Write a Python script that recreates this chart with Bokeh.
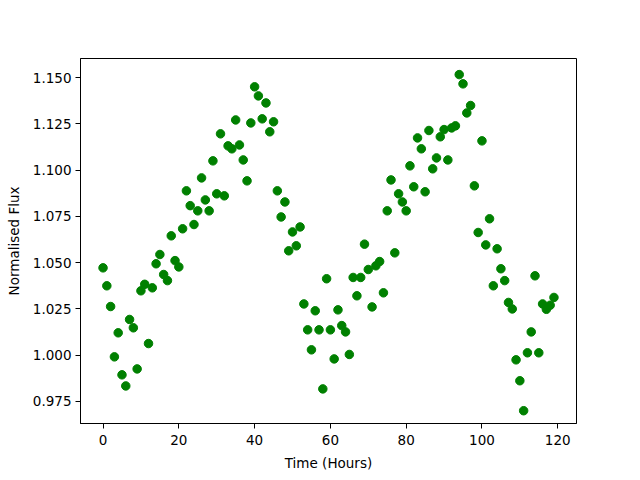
from bokeh.plotting import figure
from bokeh.models import Range1d, FixedTicker, NumeralTickFormatter, ColumnDataSource
from bokeh.embed import file_html
from bokeh.resources import INLINE

hours = list(range(120))
flux = [
    1.0472, 1.0375, 1.0263, 0.9991, 1.0121, 0.9894, 0.9834, 1.0193, 1.0148, 0.9926,
    1.0348, 1.0383, 1.0063, 1.0364, 1.0494, 1.0544, 1.0436, 1.0403, 1.0645, 1.0511,
    1.0477, 1.0683, 1.0888, 1.0808, 1.0706, 1.0780, 1.0958, 1.0839, 1.0780, 1.1050,
    1.0872, 1.1196, 1.0861, 1.1131, 1.1115, 1.1271, 1.1136, 1.1055, 1.0942, 1.1255,
    1.1450, 1.1401, 1.1277, 1.1363, 1.1207, 1.1261, 1.0888, 1.0747, 1.0828, 1.0564,
    1.0666, 1.0591, 1.0693, 1.0277, 1.0137, 1.0029, 1.0240, 1.0137, 0.9818, 1.0413,
    1.0137, 0.9980, 1.0245, 1.0160, 1.0126, 1.0004, 1.0420, 1.0321, 1.0420, 1.0600,
    1.0463, 1.0261, 1.0483, 1.0506, 1.0337, 1.0780, 1.0947, 1.0553, 1.0872, 1.0828,
    1.0780, 1.1023, 1.0910, 1.1174, 1.1115, 1.0883, 1.1214, 1.1007, 1.1066, 1.1180,
    1.1219, 1.1055, 1.1228, 1.1239, 1.1516, 1.1466, 1.1309, 1.1349, 1.0915, 1.0663,
    1.1158, 1.0596, 1.0737, 1.0375, 1.0575, 1.0467, 1.0403, 1.0285, 1.0250, 0.9975,
    0.9862, 0.9700, 1.0013, 1.0126, 1.0429, 1.0013, 1.0277, 1.0248, 1.0270, 1.0312,
]
x_ticks = [0, 20, 40, 60, 80, 100, 120]
y_ticks = [0.975, 1.000, 1.025, 1.050, 1.075, 1.100, 1.125, 1.150]

src = ColumnDataSource(data=dict(hours=hours, flux=flux))

p = figure(
    frame_width=496, frame_height=365,
    output_backend="svg", toolbar_location=None,
    x_range=Range1d(-5.95, 124.95), y_range=Range1d(0.9631, 1.1603),
    min_border_left=80, min_border_right=56, min_border_top=58, min_border_bottom=49,
)
p.scatter("hours", "flux", source=src, size=8.5, fill_color="#008000", line_color="#008000")

p.grid.visible = False
p.outline_line_color = "black"
p.outline_line_width = 1
p.outline_line_alpha = 1

for ax in (p.xaxis[0], p.yaxis[0]):
    ax.major_tick_in = 0
    ax.major_tick_out = 5
    ax.minor_tick_in = 0
    ax.minor_tick_out = 0
    ax.axis_line_color = "black"
    ax.major_tick_line_color = "black"
    ax.major_label_text_font = "DejaVu Sans"
    ax.major_label_text_font_size = "13.5px"
    ax.major_label_text_color = "black"
    ax.axis_label_text_font = "DejaVu Sans"
    ax.axis_label_text_font_size = "13.5px"
    ax.axis_label_text_font_style = "normal"
    ax.axis_label_text_color = "black"

p.xaxis.major_label_standoff = 6
p.yaxis.major_label_standoff = 4
p.xaxis.ticker = FixedTicker(ticks=x_ticks)
p.yaxis.ticker = FixedTicker(ticks=y_ticks)
p.yaxis.formatter = NumeralTickFormatter(format="0.000")
p.xaxis.axis_label = "Time (Hours)"
p.yaxis.axis_label = "Normalised Flux"
p.xaxis.axis_label_standoff = 7
p.yaxis.axis_label_standoff = 8

open("out.html", "w").write(file_html(p, INLINE))
